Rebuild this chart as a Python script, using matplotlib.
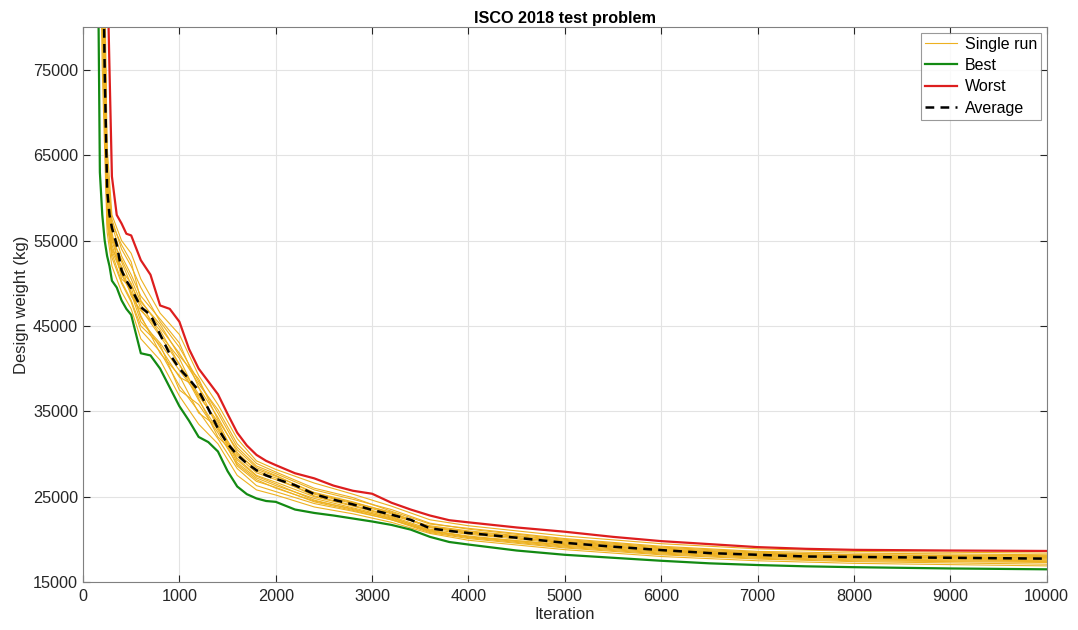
import numpy as np
from matplotlib import pyplot as plt

plt.rcParams['font.family'] = ['Liberation Sans', 'DejaVu Sans']

# iteration grid for best / worst / average
it = [0, 150, 175, 200, 225, 250, 275, 300, 350, 400, 450, 500, 600, 700, 800, 900,
      1000, 1100, 1200, 1300, 1400, 1500, 1600, 1700, 1800, 1900, 2000, 2200, 2400,
      2600, 2800, 3000, 3200, 3400, 3600, 3800, 4000, 4500, 5000, 5500, 6000, 6500,
      7000, 7500, 8000, 9000, 10000]

best = [300000, 95000, 63000, 58000, 55000, 53200, 52000, 50300, 49500, 48000, 47000,
        46300, 41800, 41550, 40000, 37800, 35600, 33900, 32000, 31400, 30300, 28000,
        26200, 25300, 24800, 24500, 24400, 23500, 23100, 22800, 22450, 22100, 21700,
        21150, 20300, 19700, 19400, 18700, 18200, 17850, 17500, 17200, 17000, 16850,
        16750, 16600, 16500]

worst = [400000, 200000, 150000, 120000, 100000, 88000, 75000, 62500, 58000, 57000,
         55800, 55600, 52700, 51000, 47400, 47000, 45500, 42300, 40000, 38500, 37000,
         34700, 32500, 31000, 29900, 29200, 28700, 27750, 27150, 26300, 25700, 25350,
         24300, 23500, 22800, 22250, 22000, 21400, 20900, 20300, 19800, 19450, 19100,
         18900, 18780, 18700, 18650]

average = [350000, 150000, 120000, 95000, 75000, 61000, 58000, 56500, 54500, 51500,
           50300, 49400, 47200, 46300, 44000, 41700, 40000, 38800, 37400, 35300, 33000,
           31200, 29900, 28900, 28100, 27500, 27100, 26350, 25300, 24650, 24100, 23450,
           22900, 22300, 21300, 21000, 20750, 20200, 19600, 19150, 18750, 18400, 18200,
           18000, 17950, 17850, 17750]

# coarser grid for the single runs
run_it = [0, 150, 200, 250, 300, 400, 500, 600, 800, 1000, 1200, 1400, 1600, 1800,
          2000, 2400, 2800, 3200, 3600, 4000, 5000, 6000, 7000, 8000, 10000]

runs = [
    [320000, 120000, 80000, 57000, 53000, 50000, 47800, 44500, 42000, 38000, 35000, 31800, 28300, 26300, 25600, 24200, 23300, 22300, 20800, 20100, 19000, 18200, 17700, 17400, 17100],
    [340000, 140000, 90000, 59000, 55000, 51500, 50000, 47000, 43800, 40500, 36300, 32800, 29500, 27500, 26700, 25000, 23900, 22700, 21200, 20600, 19500, 18700, 18100, 17900, 17700],
    [360000, 160000, 100000, 63000, 57500, 54000, 52000, 49500, 45500, 42500, 38500, 34800, 30800, 28600, 27700, 25800, 24700, 23500, 21900, 21200, 20000, 19100, 18500, 18200, 18000],
    [330000, 130000, 85000, 58000, 54000, 52000, 48500, 46800, 44500, 40500, 37000, 33500, 29000, 27200, 26300, 24800, 23700, 22600, 21000, 20400, 19300, 18500, 18000, 17700, 17500],
    [350000, 150000, 95000, 61000, 56000, 50500, 49500, 46000, 42500, 39000, 37800, 33000, 30000, 28200, 27400, 25500, 24400, 23100, 21500, 20900, 19800, 18900, 18300, 18100, 17900],
    [370000, 170000, 105000, 66000, 58000, 55000, 53500, 50500, 46500, 44000, 39200, 35800, 31800, 29200, 28200, 26600, 25300, 23900, 22300, 21600, 20400, 19500, 18900, 18600, 18400],
    [310000, 110000, 75000, 56000, 52000, 49000, 47000, 43500, 41000, 36800, 33500, 31200, 27500, 25800, 25200, 23800, 23000, 22000, 20700, 19900, 18800, 18000, 17500, 17200, 16900],
    [345000, 145000, 92000, 60000, 55500, 52500, 49800, 47500, 44000, 41200, 36500, 32000, 29800, 27800, 27000, 25300, 24200, 23000, 21400, 20800, 19600, 18700, 18200, 17950, 17800],
    [355000, 155000, 98000, 62000, 56800, 53200, 51000, 48500, 45800, 43000, 37800, 34300, 30200, 28000, 27200, 25100, 24000, 22800, 21600, 21000, 19900, 19000, 18400, 18200, 18100],
    [335000, 135000, 88000, 58500, 54500, 51000, 48800, 45500, 43000, 39800, 36800, 33800, 29300, 27400, 26500, 24600, 23500, 22500, 21100, 20300, 19200, 18400, 17900, 17600, 17400],
    [365000, 165000, 102000, 64000, 57000, 54500, 52500, 48000, 44800, 41800, 38200, 35200, 31200, 28900, 27900, 26000, 24900, 23300, 21800, 21300, 20100, 19200, 18600, 18400, 18200],
    [325000, 125000, 82000, 57500, 53500, 50200, 48000, 45000, 42800, 37500, 35800, 32500, 28800, 27000, 26000, 24500, 23600, 22400, 20900, 20200, 19100, 18300, 17800, 17500, 17300],
    [342000, 142000, 91000, 59500, 55200, 52800, 50500, 47800, 45200, 41500, 38800, 34000, 30500, 28400, 27500, 25400, 24300, 23200, 21400, 20700, 19700, 18800, 18300, 18000, 17850],
    [328000, 128000, 84000, 57800, 53800, 51200, 49000, 46200, 41800, 39200, 34800, 33200, 28600, 26800, 26100, 24400, 23400, 22300, 21000, 20300, 19400, 18600, 18100, 17800, 17600],
]

fig = plt.figure(figsize=(10.78, 6.30), dpi=100)
ax = fig.add_axes([0.077, 0.076, 0.894, 0.881])

for i, r in enumerate(runs):
    ax.plot(run_it, r, color='#EDB120', lw=0.8, label='Single run' if i == 0 else None)
ax.plot(it, best, color='#138A13', lw=1.6, label='Best')
ax.plot(it, worst, color='#DD1E1E', lw=1.6, label='Worst')
ax.plot(it, average, color='black', lw=1.8, ls=(0, (3.5, 2.5)), label='Average')

ax.set_xlim(0, 10000)
ax.set_ylim(15000, 80000)
ax.set_xticks(np.arange(0, 10001, 1000))
ax.set_yticks(np.arange(15000, 80000, 10000))
ax.grid(True, color='#E3E3E3', lw=0.8)
ax.set_axisbelow(True)
ax.tick_params(direction='in', top=True, right=True, labelsize=11.7,
               colors='#262626', length=5)
ax.tick_params(axis='x', pad=5)
for s in ax.spines.values():
    s.set_color('#808080')
    s.set_linewidth(0.8)

ax.set_xlabel('Iteration', fontsize=12, color='#262626', labelpad=2)
ax.set_ylabel('Design weight (kg)', fontsize=12, color='#262626', labelpad=3)
ax.set_title('ISCO 2018 test problem', fontsize=11.7, fontweight='bold', pad=3)

leg = ax.legend(loc='upper right', fontsize=11.5, frameon=True, fancybox=False,
                borderaxespad=0.35, handlelength=2.0, labelspacing=0.4,
                borderpad=0.25, handletextpad=0.5)
leg.get_frame().set_edgecolor('#808080')
leg.get_frame().set_linewidth(0.8)

fig.savefig('out.png', dpi=100)
